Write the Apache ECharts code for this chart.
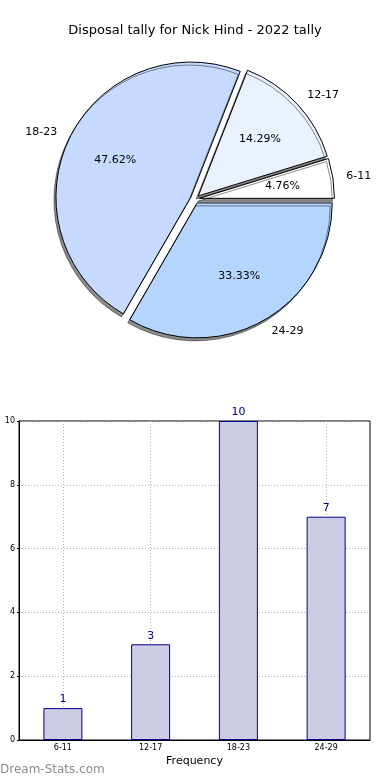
<!DOCTYPE html>
<html><head><meta charset="utf-8">
<script src="https://cdn.jsdelivr.net/npm/echarts@6/dist/echarts.min.js"></script>
<style>html,body{margin:0;padding:0;background:#fff}#c{width:390px;height:780px}</style>
</head><body><div id="c"></div>
<script>
const titleText = 'Disposal tally for Nick Hind - 2022 tally';
const categories = ['6-11', '12-17', '18-23', '24-29'];
const tallyValues = [1, 3, 10, 7];
const sliceColors = ['#ffffff', '#eaf1ff', '#c6d9ff', '#b4d5ff'];
const yTicks = [0, 2, 4, 6, 8, 10];

const FONT = 'DejaVu Sans';
const R = 135;
const CX = 195, CY = 199;
const OFF = 4.5;

const mainData = categories.map((c, i) => ({
  name: c, value: tallyValues[i], selected: true,
  itemStyle: { color: sliceColors[i] }
}));
const pctData = categories.map((c, i) => ({
  name: c, value: tallyValues[i], selected: true,
  itemStyle: { color: 'rgba(0,0,0,0)' }
}));
const total = tallyValues.reduce((a, b) => a + b, 0);

const chart = echarts.init(document.getElementById('c'));
chart.setOption({
  animation: false,
  textStyle: { fontFamily: FONT },
  title: {
    text: titleText, left: 'center', top: 19,
    textStyle: { fontFamily: FONT, fontSize: 13, fontWeight: 'normal', color: '#000' }
  },
  graphic: [{
    type: 'text', left: 0, top: 764,
    style: { text: 'Dream-Stats.com', fill: '#8c8c8c', font: '12px "DejaVu Sans"' }
  }],
  grid: {
    left: 19, right: 20, top: 421, bottom: 40,
    outerBoundsMode: 'none', containLabel: false,
    show: true, borderColor: '#000', borderWidth: 1, backgroundColor: 'transparent'
  },
  xAxis: {
    type: 'category', data: categories, boundaryGap: true,
    name: 'Frequency', nameLocation: 'middle', nameGap: 16,
    nameTextStyle: { fontSize: 11, color: '#000', fontFamily: FONT },
    axisLine: { lineStyle: { color: '#000' } },
    axisTick: { show: true, alignWithLabel: true, inside: true, length: 3, lineStyle: { color: '#000' } },
    axisLabel: { fontSize: 8, color: '#000', margin: 4 },
    splitLine: { show: true, alignWithLabel: true, interval: 0, lineStyle: { type: [1, 2], color: '#b0b0b0' } }
  },
  yAxis: {
    type: 'value', min: 0, max: 10, interval: 2,
    name: 'Disposal Tally', nameLocation: 'middle', nameGap: 21, nameRotate: 90,
    nameTextStyle: { fontSize: 11, color: '#000', fontFamily: FONT },
    axisLine: { show: true, lineStyle: { color: '#000' } },
    axisTick: { show: true, inside: false, length: 2, lineStyle: { color: '#000' } },
    axisLabel: { fontSize: 8, color: '#000', margin: 4 },
    splitLine: { show: true, lineStyle: { type: [1, 2], color: '#b0b0b0' } }
  },
  series: [
    {
      type: 'pie', center: [CX, CY], radius: R,
      startAngle: 0, clockwise: false,
      selectedMode: 'multiple', selectedOffset: OFF,
      avoidLabelOverlap: false, silent: true,
      itemStyle: {
        borderColor: '#000', borderWidth: 1,
        shadowColor: 'rgba(0,0,0,0.45)', shadowOffsetX: -2, shadowOffsetY: 3, shadowBlur: 0
      },
      label: { show: true, position: 'outside', fontSize: 11, color: '#000', fontFamily: FONT, distanceToLabelLine: 0 },
      labelLine: { show: false, length: R * 0.1, length2: 0 },
      data: mainData
    },
    {
      type: 'pie', center: [CX, CY], radius: R * 1.2,
      startAngle: 0, clockwise: false,
      selectedMode: 'multiple', selectedOffset: OFF,
      avoidLabelOverlap: false, silent: true,
      itemStyle: { borderWidth: 0 },
      label: {
        show: true, position: 'inside', fontSize: 11, color: '#000', fontFamily: FONT,
        formatter: p => (p.value / total * 100).toFixed(2) + '%'
      },
      labelLine: { show: false },
      data: pctData
    },
    {
      type: 'bar', data: tallyValues, barWidth: 39,
      itemStyle: { color: '#ccccE6', borderColor: '#00008b', borderWidth: 1 },
      label: { show: true, position: 'top', color: '#000080', fontSize: 11, distance: 3 }
    }
  ]
});
</script></body></html>
